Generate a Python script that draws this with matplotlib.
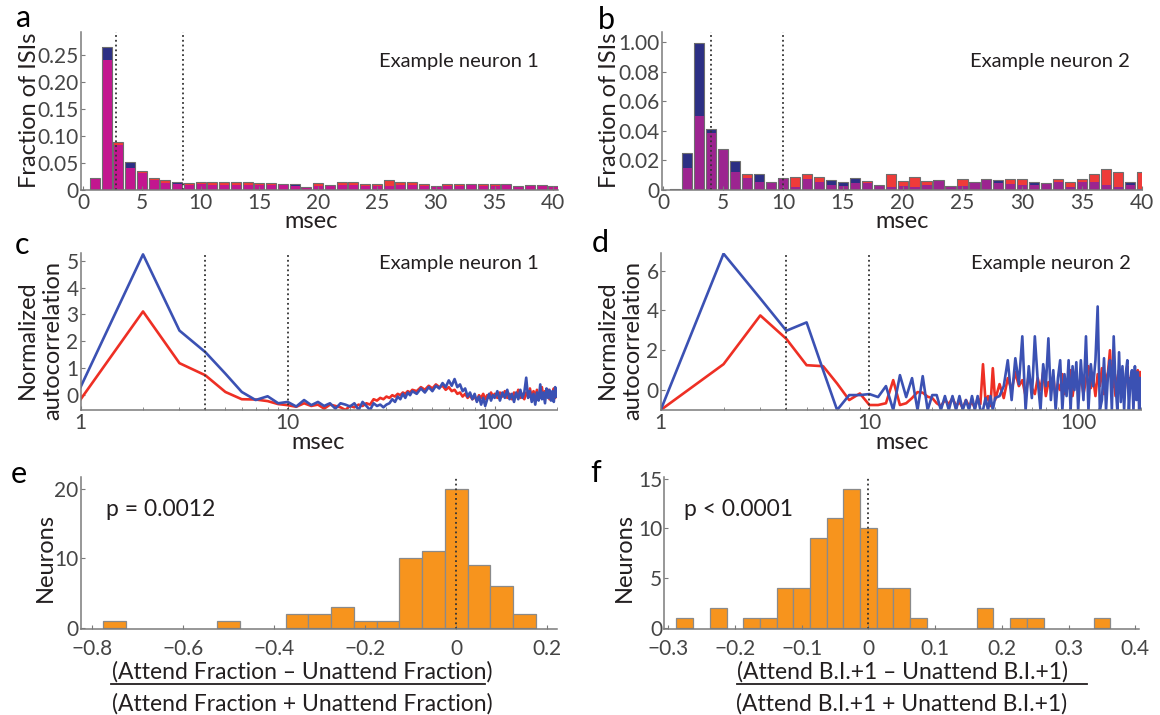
import matplotlib
matplotlib.use("Agg")
import matplotlib.pyplot as plt
import numpy as np
from matplotlib.lines import Line2D
from matplotlib.ticker import NullFormatter

plt.rcParams['font.family'] = ['Lato', 'DejaVu Sans']

# ---- data ----
isi_bins = list(range(1, 41))

# panel a, example neuron 1, fraction of ISIs
n1_blue = [0.023, 0.265, 0.083, 0.052, 0.031, 0.018, 0.0136, 0.0154, 0.0093, 0.011,
           0.010, 0.010, 0.010, 0.010, 0.009, 0.009, 0.010, 0.011, 0.006, 0.007,
           0.007, 0.009, 0.009, 0.008, 0.008, 0.008, 0.009, 0.009, 0.008, 0.006,
           0.008, 0.008, 0.009, 0.008, 0.008, 0.009, 0.006, 0.007, 0.007, 0.006]
n1_red = [0.020, 0.241, 0.088, 0.041, 0.035, 0.0216, 0.018, 0.011, 0.0123, 0.014,
          0.014, 0.014, 0.014, 0.014, 0.013, 0.013, 0.012, 0.008, 0.006, 0.0123,
          0.009, 0.014, 0.014, 0.012, 0.011, 0.018, 0.014, 0.014, 0.011, 0.0074,
          0.012, 0.012, 0.012, 0.012, 0.012, 0.012, 0.008, 0.009, 0.009, 0.0074]

# panel b, example neuron 2
n2_blue = [0.0005, 0.0251, 0.0994, 0.0411, 0.0267, 0.0194, 0.0080, 0.0110, 0.0053, 0.0080,
           0.0018, 0.0075, 0.0057, 0.0069, 0.0055, 0.0080, 0.0050, 0.0034, 0.0023, 0.0027,
           0.0023, 0.0034, 0.0068, 0.0018, 0.0030, 0.0057, 0.0068, 0.0066, 0.0039, 0.0034,
           0.0052, 0.0039, 0.0052, 0.0023, 0.0052, 0.0057, 0.0034, 0.0023, 0.0055, 0.0010]
n2_red = [0.0, 0.0149, 0.0498, 0.0384, 0.0279, 0.0119, 0.0107, 0.0057, 0.0057, 0.0075,
          0.0091, 0.0107, 0.0091, 0.0034, 0.0030, 0.0046, 0.0064, 0.0027, 0.0110, 0.0062,
          0.0091, 0.0062, 0.0059, 0.0027, 0.0075, 0.0046, 0.0073, 0.0046, 0.0075, 0.0075,
          0.0034, 0.0046, 0.0075, 0.0057, 0.0073, 0.0110, 0.0141, 0.0121, 0.0034, 0.0121]

# panels c, d: autocorrelation lags (msec)
lags = list(range(1, 41)) + list(range(42, 101, 2)) + list(range(103, 200, 3))

ac1_blue = [0.31, 5.23, 2.40, 1.60, 0.80, 0.12, -0.18, -0.04, -0.30, -0.25,
            -0.42, -0.18, -0.37, -0.25, -0.40, -0.30, -0.50, -0.30, -0.35, -0.42,
            -0.30, -0.55, -0.25, -0.40, -0.55, -0.30, -0.40, -0.35, -0.45, -0.35,
            -0.30, -0.15, -0.25, -0.05, -0.15, 0.05, -0.10, 0.10, 0.00, 0.15,
            0.05, 0.25, 0.10, 0.30, 0.15, 0.35, 0.25, 0.45, 0.30, 0.55,
            0.35, 0.60, 0.30, 0.40, 0.15, 0.25, -0.05, 0.10, -0.15, 0.05,
            -0.25, -0.05, -0.35, -0.10, -0.40, -0.15, 0.05, -0.20, 0.00, -0.10,
            0.15, -0.20, 0.10, -0.10, 0.20, -0.15, 0.05, -0.25, 0.10, -0.15,
            0.20, -0.10, 0.10, 0.65, -0.10, 0.15, -0.25, 0.05, -0.35, 0.10,
            -0.20, 0.40, -0.15, 0.10, -0.30, 0.25, -0.10, 0.20, -0.20, 0.15,
            -0.25, 0.30, -0.05]
ac1_red = [-0.15, 3.11, 1.19, 0.74, 0.12, -0.15, -0.16, -0.22, -0.33, -0.37,
           -0.43, -0.30, -0.40, -0.35, -0.50, -0.35, -0.40, -0.45, -0.55, -0.40,
           -0.45, -0.35, -0.40, -0.30, -0.35, -0.15, -0.20, -0.10, -0.15, -0.05,
           -0.10, 0.00, -0.05, 0.05, 0.00, 0.10, 0.05, 0.15, 0.10, 0.20,
           0.15, 0.30, 0.20, 0.35, 0.25, 0.40, 0.30, 0.35, 0.20, 0.30,
           0.15, 0.20, 0.05, 0.10, -0.05, 0.05, -0.10, 0.00, -0.15, -0.05,
           -0.20, 0.00, -0.10, 0.05, -0.15, 0.00, -0.10, 0.10, -0.05, 0.05,
           -0.10, 0.10, -0.05, 0.15, -0.10, 0.05, -0.15, 0.10, -0.05, 0.20,
           -0.10, 0.05, -0.15, 0.10, -0.05, 0.25, -0.10, 0.15, -0.05, 0.20,
           -0.15, 0.05, 0.30, -0.10, 0.15, -0.05, 0.20, -0.15, 0.10, -0.05,
           0.25, -0.10, 0.05]

ac2_blue = [-1.0, 6.85, 4.6, 2.98, 3.4, 1.0, -1.0, -0.25, -0.25, -0.2,
            -0.35, 0.2, -1.0, 0.75, -0.35, 0.6, -1.0, 0.7, -1.0, -0.25,
            -0.25, -1.0, -0.3, -1.0, -0.3, -1.0, -0.3, -1.0, -0.5, -1.0,
            -0.3, -1.0, -0.3, -1.0, -1.0, -0.4, -1.0, -0.3, -1.0, -0.4,
            -0.3, 0.2, 1.5, -0.5, 1.6, 0.3, 2.7, -1.0, 1.2, -0.4,
            2.7, 0.5, -1.0, 1.3, 0.2, 2.6, -0.5, 1.0, -1.0, 0.6,
            1.5, -1.0, 0.8, -0.3, 1.5, -1.0, 1.2, 0.0, 1.4, -1.0,
            1.5, -0.5, 2.7, -1.0, 1.3, 0.2, 1.5, 4.2, -1.0, -0.5,
            1.6, -1.0, 0.8, 1.5, -1.0, 2.7, 0.3, -1.0, 1.9, -0.6,
            1.2, -1.0, 0.8, 1.5, -1.0, 0.5, 1.0, -1.0, 1.2, -0.5,
            0.9, -1.0, 0.6]
ac2_red = [-1.0, 1.3, 3.75, 2.57, 1.25, 1.2, 0.33, -0.5, -0.17, -0.75,
           -0.75, -0.66, 0.5, -0.75, -0.66, -0.4, -0.1, -0.13, -0.33, -0.4,
           -0.66, -0.8, -0.5, -0.7, -0.4, -0.8, -0.6, -0.9, -0.5, -0.8,
           -0.6, -0.9, -0.4, -0.7, 1.3, -0.6, -0.3, -0.8, 1.1, -0.5,
           0.3, -0.4, 0.6, 0.0, 0.9, 0.2, 0.5, -0.3, 0.8, 0.1,
           -0.2, 0.6, 0.0, 0.9, -0.3, 0.4, 0.1, 0.7, -0.4, 0.3,
           0.0, 0.8, -0.2, 0.5, 0.1, 1.0, -0.3, 0.4, 0.6, 0.0,
           0.7, -0.2, 0.5, 1.2, 0.1, 0.6, -0.3, 0.8, 0.2, 1.1,
           -0.2, 0.5, 0.9, 2.0, 0.1, 0.7, -0.3, 0.6, 1.0, 0.2,
           0.8, -0.2, 0.5, 1.2, 0.0, 0.6, 0.3, 0.9, -0.1, 0.5,
           1.0, 0.2, 0.9]

# panel e histogram
e_centers = [-0.75, -0.5, -0.35, -0.3, -0.25, -0.2, -0.15, -0.1, -0.05, 0.0, 0.05, 0.1, 0.15]
e_counts = [1, 1, 2, 2, 3, 1, 1, 10, 11, 20, 9, 6, 2]

# panel f histogram
f_centers = [-0.275, -0.225, -0.175, -0.15, -0.125, -0.1, -0.075, -0.05, -0.025, 0.0,
             0.025, 0.05, 0.075, 0.175, 0.225, 0.25, 0.35]
f_counts = [1, 2, 1, 1, 4, 4, 9, 11, 14, 10, 4, 4, 1, 2, 1, 1, 1]

# ---- styling ----
NAVY = '#2c2f84'
RED = '#ef3b39'
BLUE_LN = '#3b51b3'
RED_LN = '#ee2f24'
ORANGE = '#f7941d'
SPINE = '#7a7a7a'
TICK = '#454545'
INK = '#231f20'

W, H = 1160, 715
fig = plt.figure(figsize=(W / 100, H / 100), dpi=100)


def add_ax(l, t, r, b):
    return fig.add_axes([l / W, 1 - b / H, (r - l) / W, (b - t) / H])


def ftext(x, y, s, **kw):
    kw.setdefault('color', INK)
    kw.setdefault('ha', 'center')
    kw.setdefault('va', 'center')
    fig.text(x / W, 1 - y / H, s, **kw)


def style(ax, xpad=2.5):
    for s in ('top', 'right'):
        ax.spines[s].set_visible(False)
    for s in ('left', 'bottom'):
        ax.spines[s].set_color(SPINE)
        ax.spines[s].set_linewidth(1.1)
    ax.tick_params(direction='in', length=3, width=0.8, color=SPINE,
                   labelsize=15, labelcolor=TICK)
    ax.tick_params(axis='x', pad=xpad)
    ax.tick_params(axis='y', pad=1.5)
    ax.patch.set_visible(False)


def isi_panel(ax, blue, red, overlap, dashes):
    x = np.array(isi_bins)
    b = np.array(blue)
    r = np.array(red)
    ax.bar(x, b, width=0.85, color=NAVY, linewidth=0)
    ax.bar(x, r, width=0.85, color=RED, linewidth=0)
    ax.bar(x, np.minimum(b, r), width=0.85, color=overlap, linewidth=0)
    ax.bar(x, np.maximum(b, r), width=0.85, facecolor='none', edgecolor='#6e6e6e', linewidth=0.8)
    for d in dashes:
        ax.axvline(d, color='#333333', ls=':', lw=1.3)
    ax.set_xticks(range(0, 41, 5))
    style(ax)


def ac_panel(ax, blue, red, ylim, yticks):
    ax.plot(lags, red, color=RED_LN, lw=1.9)
    ax.plot(lags, blue, color=BLUE_LN, lw=1.9)
    ax.set_xscale('log')
    ax.set_xlim(1, 200)
    ax.set_ylim(*ylim)
    ax.set_xticks([1, 10, 100])
    ax.set_xticklabels(['1', '10', '100'])
    ax.xaxis.set_minor_formatter(NullFormatter())
    ax.set_yticks(yticks)
    ax.set_yticklabels([str(t) for t in yticks])
    for d in (4, 10):
        ax.axvline(d, color='#333333', ls=':', lw=1.3)
    style(ax)
    ax.tick_params(which='minor', direction='in', length=2, color=SPINE)


def hist_panel(ax, centers, counts, width, xlim, ylim, xticks, xlabels, yticks):
    ax.bar(centers, counts, width=width, color=ORANGE, edgecolor='#8a8a8a', linewidth=0.9)
    ax.axvline(0, color='#333333', ls=':', lw=1.3)
    ax.set_xlim(*xlim)
    ax.set_ylim(*ylim)
    ax.set_xticks(xticks)
    ax.set_xticklabels(xlabels)
    ax.set_yticks(yticks)
    ax.set_yticklabels([str(t) for t in yticks])
    style(ax, xpad=7)


# a
ax_a = add_ax(80.7, 31.7, 558, 190)
isi_panel(ax_a, n1_blue, n1_red, '#c3168f', (2.8, 8.5))
ax_a.set_xlim(-0.2, 40.4)
ax_a.set_ylim(0, 0.293)
ax_a.set_yticks([0, 0.05, 0.10, 0.15, 0.20, 0.25])
ax_a.set_yticklabels(['0', '0.05', '0.10', '0.15', '0.20', '0.25'])

# b
ax_b = add_ax(662, 31.7, 1142, 190)
isi_panel(ax_b, n2_blue, n2_red, '#9c2490', (4, 10))
ax_b.set_xlim(-0.1, 40)
ax_b.set_ylim(0, 0.107)
ax_b.set_yticks([0, 0.02, 0.04, 0.06, 0.08, 0.10])
ax_b.set_yticklabels(['0', '0.02', '0.04', '0.06', '0.08', '1.00'])

# c
ax_c = add_ax(80.7, 252.5, 557, 410)
ac_panel(ax_c, ac1_blue, ac1_red, (-0.55, 5.3), [0, 1, 2, 3, 4, 5])

# d
ax_d = add_ax(660.7, 252.7, 1141, 410)
ac_panel(ax_d, ac2_blue, ac2_red, (-1.0, 6.9), [0, 2, 4, 6])

# e
ax_e = add_ax(80.7, 476.7, 557.4, 629)
hist_panel(ax_e, e_centers, e_counts, 0.05, (-0.825, 0.222), (-0.19, 21.8),
           [-0.8, -0.6, -0.4, -0.2, 0, 0.2], ['\u22120.8', '\u22120.6', '\u22120.4', '\u22120.2', '0', '0.2'],
           [0, 10, 20])

# f
ax_f = add_ax(664.4, 476.7, 1139, 629)
hist_panel(ax_f, f_centers, f_counts, 0.025, (-0.3056, 0.4056), (-0.13, 15.2),
           [-0.3, -0.2, -0.1, 0, 0.1, 0.2, 0.3, 0.4],
           ['\u22120.3', '\u22120.2', '\u22120.1', '0', '0.1', '0.2', '0.3', '0.4'],
           [0, 5, 10, 15])

# panel letters
for lx, ly, s in [(24, 18, 'a'), (606, 20, 'b'), (22, 245, 'c'), (600, 243, 'd'),
                  (19, 474, 'e'), (596, 473, 'f')]:
    ftext(lx, ly, s, fontsize=22, color='black')

# titles
for tx, ty, s in [(459, 62, 'Example neuron 1'), (1050, 62, 'Example neuron 2'),
                  (459, 263, 'Example neuron 1'), (1051, 263, 'Example neuron 2')]:
    ftext(tx, ty, s, fontsize=14.5)

# axis labels
ftext(30, 110, 'Fraction of ISIs', fontsize=17, rotation=90)
ftext(610, 110, 'Fraction of ISIs', fontsize=17, rotation=90)
ftext(311, 222, 'msec', fontsize=17)
ftext(902, 222, 'msec', fontsize=17)
ftext(40, 340, 'Normalized\nautocorrelation', fontsize=17, rotation=90, linespacing=1.25)
ftext(620, 340, 'Normalized\nautocorrelation', fontsize=17, rotation=90, linespacing=1.25)
ftext(318, 443, 'msec', fontsize=17)
ftext(902, 443, 'msec', fontsize=17)
ftext(45, 557, 'Neurons', fontsize=17, rotation=90)
ftext(624, 557, 'Neurons', fontsize=17, rotation=90)

# p values
ftext(105.5, 510, 'p = 0.0012', fontsize=16.5, ha='left')
ftext(683.7, 510, 'p < 0.0001', fontsize=16.5, ha='left')

# fraction x labels
ftext(302, 672, '(Attend Fraction \u2013 Unattend Fraction)', fontsize=16.5)
ftext(302, 704, '(Attend Fraction + Unattend Fraction)', fontsize=16.5)
fig.add_artist(Line2D([111 / W, 485 / W], [1 - 684 / H] * 2, color=INK, lw=1.3))
ftext(902, 672, '(Attend B.I.+1 \u2013 Unattend B.I.+1)', fontsize=16.5)
ftext(902, 704, '(Attend B.I.+1 + Unattend B.I.+1)', fontsize=16.5)
fig.add_artist(Line2D([737 / W, 1087 / W], [1 - 684 / H] * 2, color=INK, lw=1.3))

fig.savefig('out.png', dpi=100)
